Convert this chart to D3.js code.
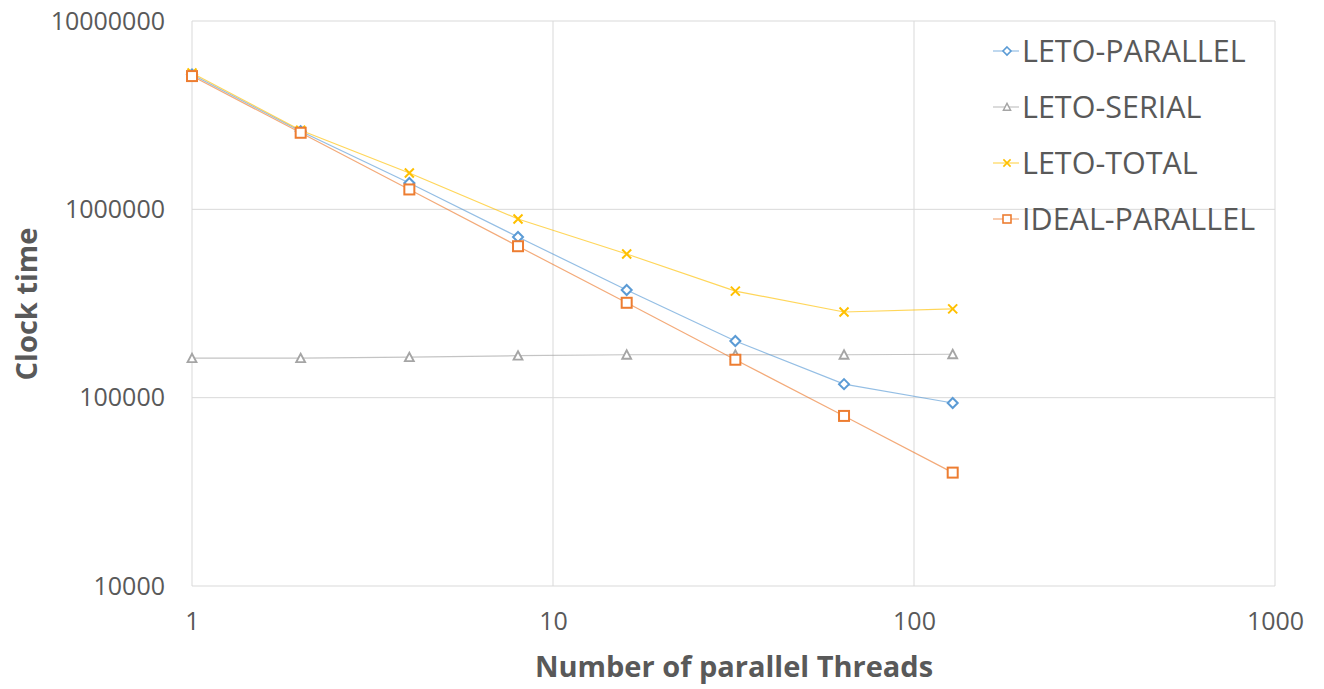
<!DOCTYPE html>
<html><head><meta charset="utf-8">
<script src="https://cdn.jsdelivr.net/npm/d3@7"></script>
<style>body{margin:0;background:#fff;} text{font-family:"Open Sans",sans-serif;}</style>
</head><body>
<svg id="c" width="1324" height="689"></svg>
<script>
const threads = [1, 2, 4, 8, 16, 32, 64, 128];
const letoParallel = [5200000, 2600000, 1380000, 713000, 373000, 200000, 118000, 93700];
const letoSerial = [162000, 162000, 164000, 167000, 169000, 169000, 169000, 170000];
const letoTotal = [5300000, 2630000, 1560000, 889000, 579000, 368000, 285000, 296000];
const idealParallel = [5100000, 2550000, 1275000, 637000, 319000, 159000, 80000, 40000];
const xTicks = [1, 10, 100, 1000];
const yTicks = [10000, 100000, 1000000, 10000000];
const seriesNames = ["LETO-PARALLEL", "LETO-SERIAL", "LETO-TOTAL", "IDEAL-PARALLEL"];
const seriesData = [letoParallel, letoSerial, letoTotal, idealParallel];
const colors = ["#5B9BD5", "#A5A5A5", "#FFC000", "#ED7D31"];
const shapes = ["diamond", "triangle", "x", "square"];

const svg = d3.select("#c");
const L = 192, R = 1275, T = 21, B = 586;
const x = d3.scaleLog().domain([1, 1000]).range([L, R]);
const y = d3.scaleLog().domain([10000, 10000000]).range([B, T]);

// grid
const g = svg.append("g");
g.selectAll(".gx").data(xTicks).join("line")
  .attr("x1", d => x(d)).attr("x2", d => x(d)).attr("y1", T).attr("y2", B)
  .attr("stroke", "#D9D9D9").attr("stroke-width", 1);
g.selectAll(".gy").data(yTicks).join("line")
  .attr("x1", L).attr("x2", R).attr("y1", d => y(d)).attr("y2", d => y(d))
  .attr("stroke", "#D9D9D9").attr("stroke-width", 1);

// axes labels via d3 axes
const xAxis = svg.append("g").attr("transform", `translate(0,${B})`)
  .call(d3.axisBottom(x).tickValues(xTicks).tickFormat(d3.format("d")).tickSize(0).tickPadding(44));
const yAxis = svg.append("g").attr("transform", `translate(${L},0)`)
  .call(d3.axisLeft(y).tickValues(yTicks).tickFormat(d3.format("d")).tickSize(0).tickPadding(27));
[xAxis, yAxis].forEach(a => {
  a.select(".domain").remove();
  a.selectAll("text").attr("fill", "#595959").style("font-size", "25px").style("font-family", "'Open Sans', sans-serif");
});
xAxis.selectAll("text").attr("dy", "0");

// titles
svg.append("text").attr("x", 734).attr("y", 677).attr("text-anchor", "middle")
  .attr("fill", "#595959").style("font-size", "29px").style("font-weight", "bold")
  .text("Number of parallel Threads");
svg.append("text").attr("transform", "translate(37,304) rotate(-90)").attr("text-anchor", "middle")
  .attr("fill", "#595959").style("font-size", "29px").style("font-weight", "bold")
  .text("Clock time");

function marker(sel, shape, color) {
  if (shape === "diamond") {
    sel.append("path").attr("d", "M0,-5L5,0L0,5L-5,0Z").attr("fill", "#fff").attr("stroke", color).attr("stroke-width", 2);
  } else if (shape === "triangle") {
    sel.append("path").attr("d", "M0,-4.5L4.5,4L-4.5,4Z").attr("fill", "#fff").attr("stroke", color).attr("stroke-width", 1.8);
  } else if (shape === "x") {
    sel.append("path").attr("d", "M-4.5,-4.5L4.5,4.5M-4.5,4.5L4.5,-4.5").attr("fill", "none").attr("stroke", color).attr("stroke-width", 2);
  } else {
    sel.append("rect").attr("x", -5).attr("y", -5).attr("width", 10).attr("height", 10).attr("fill", "#fff").attr("stroke", color).attr("stroke-width", 2);
  }
}

const line = d3.line().x(d => x(d[0])).y(d => y(d[1]));
const order = [1, 0, 2, 3];
order.forEach(i => {
  const pts = threads.map((t, k) => [t, seriesData[i][k]]);
  svg.append("path").datum(pts).attr("d", line).attr("fill", "none")
    .attr("stroke", colors[i]).attr("stroke-opacity", 0.65).attr("stroke-width", 1.2);
});
order.forEach(i => {
  threads.forEach((t, k) => {
    const m = svg.append("g").attr("transform", `translate(${x(t)},${y(seriesData[i][k])})`);
    marker(m, shapes[i], colors[i]);
  });
});

// legend
seriesNames.forEach((n, i) => {
  const cy = 51 + i * 56;
  const lg = svg.append("g").attr("transform", `translate(1007,${cy})`);
  lg.append("line").attr("x1", -14).attr("x2", 12).attr("y1", 0).attr("y2", 0)
    .attr("stroke", colors[i]).attr("stroke-opacity", 0.65).attr("stroke-width", 1.2);
  const m = lg.append("g").attr("transform", "scale(0.8)");
  marker(m, shapes[i], colors[i]);
  svg.append("text").attr("x", 1022).attr("y", cy).attr("dy", "0.35em")
    .attr("fill", "#595959").style("font-size", "30.5px").text(n);
});
</script>
</body></html>
